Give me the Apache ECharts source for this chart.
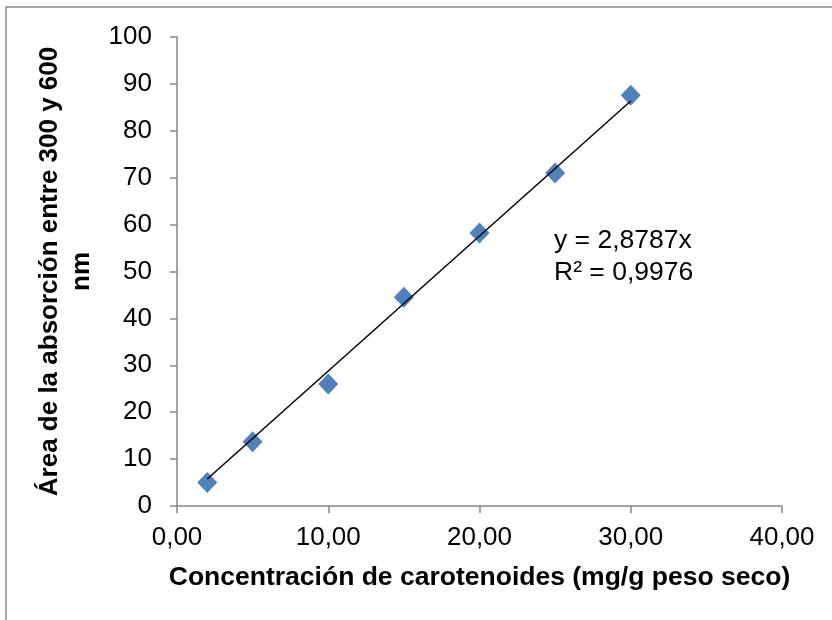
<!DOCTYPE html>
<html><head><meta charset="utf-8">
<script src="https://cdn.jsdelivr.net/npm/echarts@6/dist/echarts.min.js"></script>
<style>html,body{margin:0;padding:0;background:#fff}#c{width:832px;height:620px}</style>
</head><body><div id="c"></div>
<script>
var concentracion = [2, 5, 10, 15, 20, 25, 30];
var area = [5.0, 13.7, 26.0, 44.5, 58.2, 71.0, 87.6];
var trendX = [2, 30];
var trendY = [5.76, 86.36];
var xTitle = 'Concentración de carotenoides (mg/g peso seco)';
var yTitle = 'Área de la absorción entre 300 y 600\nnm';
var eqLines = ['y = 2,8787x', 'R² = 0,9976'];
var FONT = '"Liberation Sans", Arial, sans-serif';
var chart = echarts.init(document.getElementById('c'), null, {renderer: 'canvas'});
chart.setOption({
  animation: false,
  backgroundColor: '#fff',
  grid: {left: 177, right: 50, top: 37, bottom: 114},
  xAxis: {
    type: 'value', min: 0, max: 40, interval: 10,
    axisLine: {show: true, lineStyle: {color: '#868686', width: 1.5}},
    axisTick: {show: true, length: 7, lineStyle: {color: '#868686', width: 1.5}},
    splitLine: {show: false},
    axisLabel: {color: '#000', fontFamily: FONT, fontSize: 26, margin: 19,
      formatter: function (v) { return v.toFixed(2).replace('.', ','); }},
    name: xTitle, nameLocation: 'middle', nameGap: 58,
    nameTextStyle: {color: '#000', fontFamily: FONT, fontSize: 26.5, fontWeight: 'bold'}
  },
  yAxis: {
    type: 'value', min: 0, max: 100, interval: 10,
    axisLine: {show: true, lineStyle: {color: '#868686', width: 1.5}},
    axisTick: {show: true, length: 7, lineStyle: {color: '#868686', width: 1.5}},
    splitLine: {show: false},
    axisLabel: {color: '#000', fontFamily: FONT, fontSize: 26, margin: 25},
    name: yTitle, nameLocation: 'middle', nameGap: 79, nameRotate: 90,
    nameTextStyle: {color: '#000', fontFamily: FONT, fontSize: 26, fontWeight: 'bold', lineHeight: 32, align: 'center'}
  },
  series: [
    {
      type: 'line', data: trendX.map(function (x, i) { return [x, trendY[i]]; }),
      showSymbol: false, symbol: 'none', lineStyle: {color: '#000', width: 1.5}, z: 3, silent: true
    },
    {
      type: 'scatter', data: concentracion.map(function (x, i) { return [x, area[i]]; }),
      symbol: 'diamond', symbolSize: [20, 21], itemStyle: {color: '#4F81BD', opacity: 1}, z: 2
    }
  ],
  graphic: [
    {type: 'rect', shape: {x: 6, y: 7, width: 900, height: 700}, style: {fill: 'none', stroke: '#8c8c8c', lineWidth: 1.5}, silent: true, z: -10},
    {type: 'text', left: 554, top: 225, style: {text: eqLines.join('\n'), font: '26.5px "Liberation Sans", Arial, sans-serif', fill: '#000', lineHeight: 32}}
  ]
});
</script></body></html>
